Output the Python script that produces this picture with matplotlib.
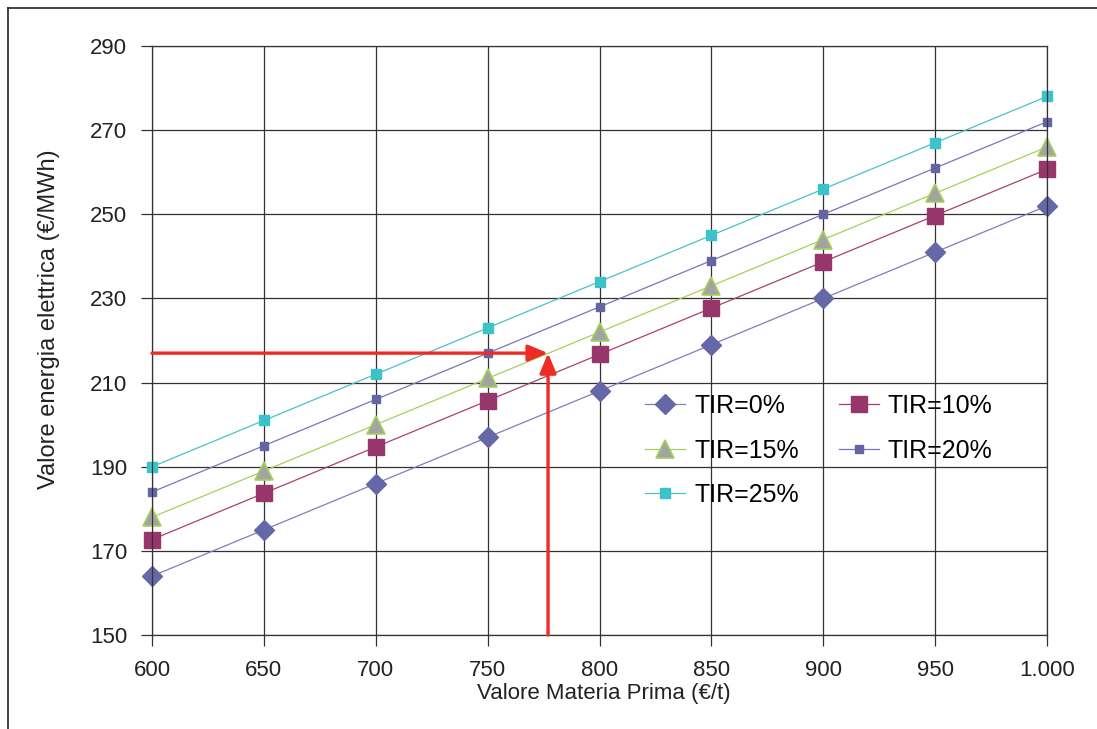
import numpy as np
import matplotlib.pyplot as plt
from matplotlib.ticker import FixedLocator

plt.rcParams['font.family'] = ['Liberation Sans', 'DejaVu Sans']

# Valore materia prima (€/t)
materia_prima = [600, 650, 700, 750, 800, 850, 900, 950, 1000]
x_labels = ["600", "650", "700", "750", "800", "850", "900", "950", "1.000"]

# Valore energia elettrica (€/MWh) per TIR
tir_0 = [164, 175, 186, 197, 208, 219, 230, 241, 252]
tir_10 = [172.7, 183.7, 194.7, 205.7, 216.7, 227.7, 238.7, 249.7, 260.7]
tir_15 = [178, 189, 200, 211, 222, 233, 244, 255, 266]
tir_20 = [184, 195, 206, 217, 228, 239, 250, 261, 272]
tir_25 = [190, 201, 212, 223, 234, 245, 256, 267, 278]

# punto (frecce)
punto_x = 777
punto_y = 217

fig = plt.figure(figsize=(10.97, 7.29), dpi=100)
ax = fig.add_axes([0.1386, 0.1289, 0.8158, 0.808])

l0, = ax.plot(materia_prima, tir_0, color="#7c7fb8", lw=0.9, marker="D", ms=10,
              mfc="#6468a6", mec="#6468a6", label="TIR=0%", clip_on=False)
l10, = ax.plot(materia_prima, tir_10, color="#a8416f", lw=0.9, marker="s", ms=12,
               mfc="#97366a", mec="#97366a", label="TIR=10%", clip_on=False)
l15, = ax.plot(materia_prima, tir_15, color="#a4d15a", lw=0.9, marker="^", ms=13,
               mfc="#a3a3a3", mec="#a4d15a", mew=1.2, label="TIR=15%", clip_on=False)
l20, = ax.plot(materia_prima, tir_20, color="#7577b5", lw=0.9, marker="s", ms=6,
               mfc="#6466a4", mec="#6466a4", label="TIR=20%", clip_on=False)
l25, = ax.plot(materia_prima, tir_25, color="#45c4cc", lw=0.9, marker="s", ms=6.5,
               mfc="#3cc2c8", mec="#3cc2c8", label="TIR=25%", clip_on=False)

# frecce rosse
arrow = dict(arrowstyle="-|>,head_length=0.6,head_width=0.25", color="#ee2b24",
             lw=2.4, mutation_scale=20, shrinkA=0, shrinkB=0)
ax.annotate("", xy=(punto_x, punto_y), xytext=(600, punto_y), arrowprops=arrow)
ax.annotate("", xy=(punto_x, punto_y), xytext=(punto_x, 150), arrowprops=arrow)

ax.set_xlim(600, 1000)
ax.set_ylim(150, 290)
ax.xaxis.set_major_locator(FixedLocator(materia_prima))
ax.set_xticklabels(x_labels)
ax.set_yticks(np.arange(150, 291, 20))
ax.grid(True, color="#333333", lw=0.9)
ax.set_axisbelow(True)
for s in ax.spines.values():
    s.set_color("#333333")
    s.set_linewidth(0.9)
ax.tick_params(axis="both", direction="out", length=8, width=0.9,
               color="#333333", labelsize=16, labelcolor="#222222", pad=10)
ax.tick_params(axis="x", pad=10)

ax.set_xlabel("Valore Materia Prima (€/t)", fontsize=16, color="#222222")
ax.xaxis.set_label_coords(0.505, -0.082)
ax.set_ylabel("Valore energia elettrica (€/MWh)", fontsize=17, color="#222222")
ax.yaxis.set_label_coords(-0.103, 0.536)

# legenda a righe: TIR0 TIR10 / TIR15 TIR20 / TIR25
ax.legend([l0, l15, l25, l10, l20],
          ["TIR=0%", "TIR=15%", "TIR=25%", "TIR=10%", "TIR=20%"],
          loc="upper left", bbox_to_anchor=(0.526, 0.447), ncol=2, frameon=False,
          fontsize=18, handlelength=1.6, columnspacing=1.6, labelspacing=0.82,
          handletextpad=0.35)

# cornice esterna
fig.add_artist(plt.Line2D([0.0073, 1.0], [0.989, 0.989], color="#222222", lw=1.2))
fig.add_artist(plt.Line2D([0.0073, 0.0073], [0.0, 0.989], color="#222222", lw=1.2))

fig.savefig("out.png", dpi=100)
